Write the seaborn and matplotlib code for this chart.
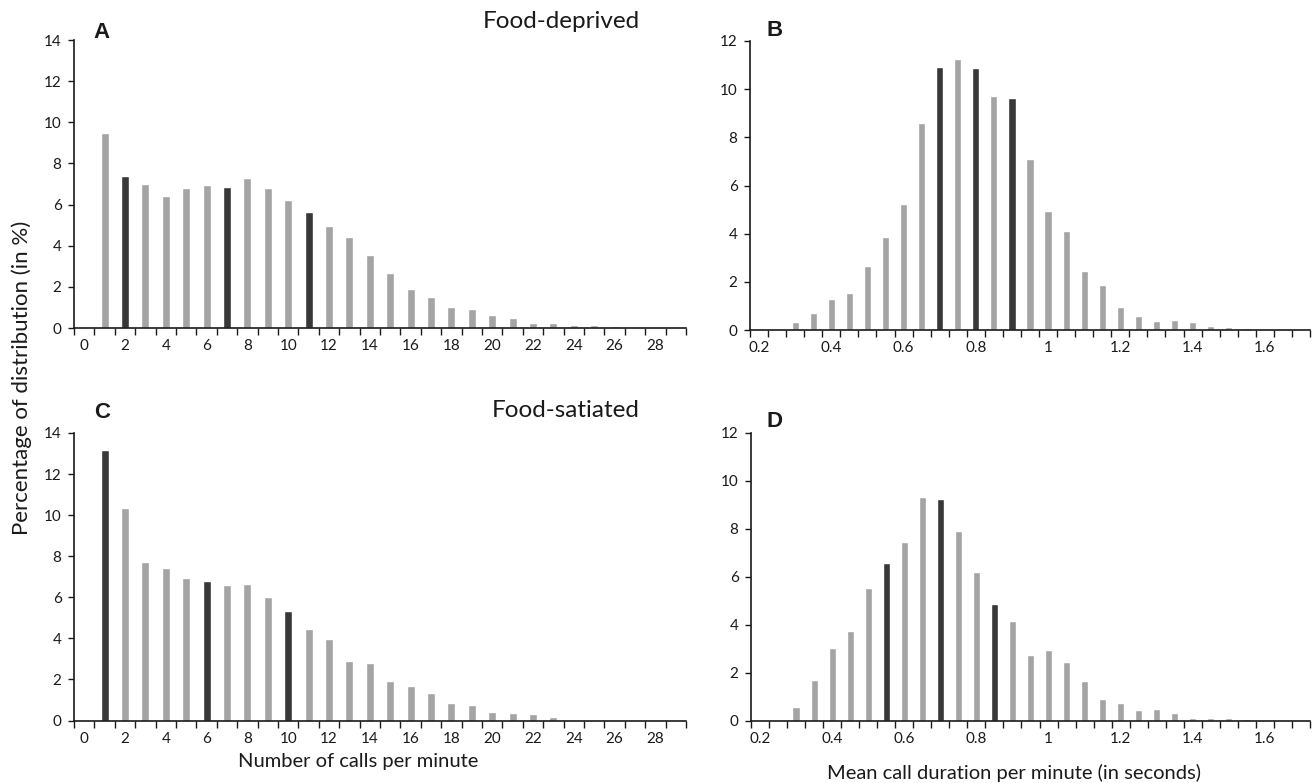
import matplotlib
matplotlib.use("Agg")
import matplotlib.pyplot as plt
import seaborn as sns
import pandas as pd
from matplotlib.ticker import FixedLocator

# ---------------- data ----------------
calls_categories = [0, 1, 2, 3, 4, 5, 6, 7, 8, 9, 10, 11, 12, 13, 14, 15, 16, 17, 18, 19,
                    20, 21, 22, 23, 24, 25, 26, 27, 28, 29]
calls_tick_labels = ["0", "2", "4", "6", "8", "10", "12", "14", "16", "18", "20", "22",
                     "24", "26", "28"]

deprived_calls = [0, 9.47, 7.41, 6.99, 6.42, 6.81, 6.96, 6.83, 7.30, 6.80, 6.20, 5.65,
                  4.94, 4.40, 3.54, 2.65, 1.89, 1.49, 1.02, 0.92, 0.65, 0.50, 0.24, 0.24,
                  0.16, 0.15, 0.08, 0.04, 0.05, 0.0]
deprived_calls_dark = [2, 7, 11]

satiated_calls = [0, 13.19, 10.35, 7.70, 7.45, 6.94, 6.77, 6.58, 6.66, 5.99, 5.31, 4.45,
                  3.98, 2.92, 2.79, 1.93, 1.66, 1.33, 0.83, 0.75, 0.39, 0.36, 0.31, 0.19,
                  0.04, 0.03, 0.02, 0.02, 0.02, 0.0]
satiated_calls_dark = [1, 6, 10]

duration_categories = ["0.2", "0.25", "0.3", "0.35", "0.4", "0.45", "0.5", "0.55", "0.6",
                       "0.65", "0.7", "0.75", "0.8", "0.85", "0.9", "0.95", "1", "1.05",
                       "1.1", "1.15", "1.2", "1.25", "1.3", "1.35", "1.4", "1.45", "1.5",
                       "1.55", "1.6", "1.65", "1.7"]
duration_tick_labels = ["0.2", "0.4", "0.6", "0.8", "1", "1.2", "1.4", "1.6"]

deprived_duration = [0, 0, 0.32, 0.69, 1.27, 1.52, 2.67, 3.85, 5.22, 8.60, 10.91, 11.24,
                     10.89, 9.73, 9.65, 7.11, 4.93, 4.11, 2.46, 1.87, 0.95, 0.60, 0.37,
                     0.40, 0.32, 0.15, 0.12, 0.07, 0.02, 0.0, 0.0]
deprived_duration_dark = ["0.7", "0.8", "0.9"]

satiated_duration = [0, 0, 0.56, 1.68, 3.04, 3.75, 5.51, 6.57, 7.43, 9.31, 9.25, 7.90,
                     6.17, 4.85, 4.13, 2.75, 2.93, 2.43, 1.63, 0.90, 0.75, 0.42, 0.49,
                     0.33, 0.12, 0.12, 0.10, 0.07, 0.03, 0.02, 0.0]
satiated_duration_dark = ["0.55", "0.7", "0.85"]

LIGHT = "#a4a4a4"
DARK = "#383838"
INK = "#1a1a1a"

sns.set_theme(style="white")
plt.rcParams["font.family"] = ["Lato", "DejaVu Sans"]

W, H = 1313, 783
fig = plt.figure(figsize=(W / 100, H / 100), dpi=100)
fig.patch.set_facecolor("white")


def box(x0, x1, y_top, y_bottom):
    return [x0 / W, 1 - y_bottom / H, (x1 - x0) / W, (y_bottom - y_top) / H]


axA = fig.add_axes(box(74, 686, 40, 328))
axB = fig.add_axes(box(750, 1310, 41, 330))
axC = fig.add_axes(box(74, 686, 433, 720.5))
axD = fig.add_axes(box(751, 1310, 432.5, 720.5))


def draw(ax, cats, vals, dark, ymax, tick_labels, step):
    labels = [str(c) for c in cats]
    dark_s = [str(d) for d in dark]
    df = pd.DataFrame({
        "cat": labels,
        "val": vals,
        "grp": ["dark" if c in dark_s else "light" for c in labels],
    })
    sns.barplot(data=df, x="cat", y="val", hue="grp", order=labels,
                palette={"dark": DARK, "light": LIGHT}, width=0.4, dodge=False,
                legend=False, ax=ax, saturation=1)
    n = len(labels)
    ax.set_xlim(-0.5, n - 0.5)
    ax.set_ylim(0, ymax)
    ax.set_xlabel("")
    ax.set_ylabel("")
    for s in ["top", "right"]:
        ax.spines[s].set_visible(False)
    for s in ["left", "bottom"]:
        ax.spines[s].set_color(INK)
        ax.spines[s].set_linewidth(1.2)
    ax.set_yticks(list(range(0, ymax + 1, 2)))
    ax.tick_params(axis="y", direction="out", length=4, width=1.0, color=INK,
                   labelsize=11, labelcolor=INK, pad=5, left=True)
    ax.set_xticks(list(range(0, n, step)))
    ax.set_xticklabels(tick_labels)
    ax.xaxis.set_minor_locator(FixedLocator([i - 0.5 for i in range(n + 1)]))
    ax.tick_params(axis="x", which="major", length=0, labelsize=11,
                   labelcolor=INK, pad=8, bottom=True)
    ax.tick_params(axis="x", which="minor", direction="out", length=5, width=1.0,
                   color=INK, bottom=True)
    ax.grid(False)
    ax.set_facecolor("white")


draw(axA, calls_categories, deprived_calls, deprived_calls_dark, 14, calls_tick_labels, 2)
draw(axB, duration_categories, deprived_duration, deprived_duration_dark, 12,
     duration_tick_labels, 4)
draw(axC, calls_categories, satiated_calls, satiated_calls_dark, 14, calls_tick_labels, 2)
draw(axD, duration_categories, satiated_duration, satiated_duration_dark, 12,
     duration_tick_labels, 4)

# panel letters
letter_font = ["Liberation Sans", "DejaVu Sans"]
for x, y, t in [(102, 33, "A"), (775, 30, "B"), (102, 412, "C"), (775, 422, "D")]:
    fig.text(x / W, 1 - y / H, t, fontsize=16, fontweight="bold", ha="center",
             va="center", family=letter_font, color=INK)

# condition titles
fig.text(561 / W, 1 - 22 / H, "Food-deprived", fontsize=17.5, ha="center",
         va="center", color=INK)
fig.text(566 / W, 1 - 410 / H, "Food-satiated", fontsize=17.5, ha="center",
         va="center", color=INK)

# axis labels
fig.text(22 / W, 1 - 378 / H, "Percentage of distribution (in %)", fontsize=16,
         rotation=90, ha="center", va="center", color=INK)
fig.text(358 / W, 1 - 762 / H, "Number of calls per minute", fontsize=14.5,
         ha="center", va="center", color=INK)
fig.text(1014 / W, 1 - 773 / H, "Mean call duration per minute (in seconds)",
         fontsize=14.5, ha="center", va="center", color=INK)

fig.savefig("out.png", dpi=100, facecolor="white")
